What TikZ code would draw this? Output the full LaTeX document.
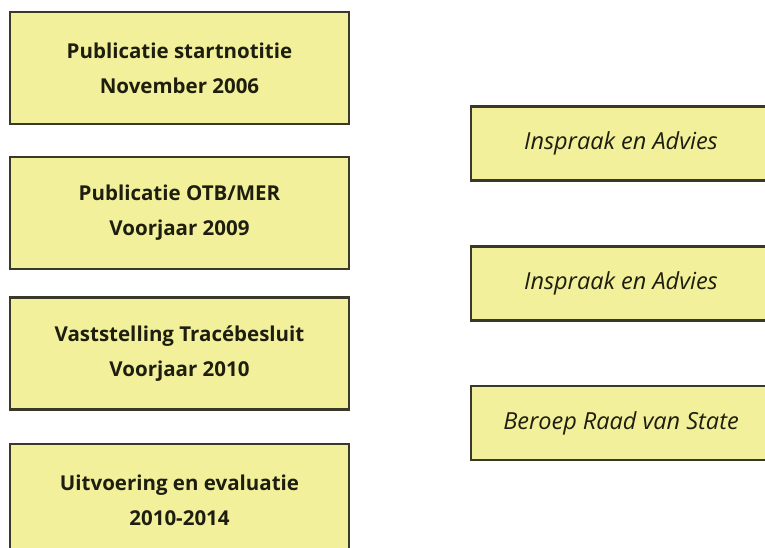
\documentclass[tikz,border=0pt]{standalone}
\usepackage{fontspec}
\setmainfont{Open Sans}
\definecolor{boxfill}{RGB}{242,240,155}
\definecolor{boxline}{RGB}{58,56,40}
\definecolor{boxtext}{RGB}{30,30,15}
\tikzset{
  fasebox/.style={draw=boxline,line width=2.6pt,fill=boxfill,text=boxtext,align=center,inner sep=0pt,
    minimum width=339pt,minimum height=112pt,font=\bfseries\fontsize{20.5}{35}\selectfont},
  inspraakbox/.style={draw=boxline,line width=2.6pt,fill=boxfill,text=boxtext,inner sep=0pt,
    minimum width=300pt,minimum height=74pt,font=\itshape\fontsize{23.5}{26}\selectfont}
}
\begin{document}
\begin{tikzpicture}[x=1pt,y=-1pt]
\useasboundingbox (0,0) rectangle (765,547);
\clip (0,0) rectangle (765,547);
% fasen links
\foreach \y/\txt [count=\i] in {68/{Publicatie startnotitie\\November 2006},213/{Publicatie OTB/MER\\Voorjaar 2009},
  353.5/{Vaststelling Trac\'ebesluit\\Voorjaar 2010},500/{Uitvoering en evaluatie\\2010-2014}}{
  \node[fasebox] (fase\i) at (179.5,\y) {\txt};}
% inspraak rechts
\foreach \y/\txt [count=\i] in {143.5/Inspraak en Advies,283.5/Inspraak en Advies,423/Beroep Raad van State}{
  \node[inspraakbox] (inspraak\i) at (621,\y) {\txt};}
\end{tikzpicture}
\end{document}
